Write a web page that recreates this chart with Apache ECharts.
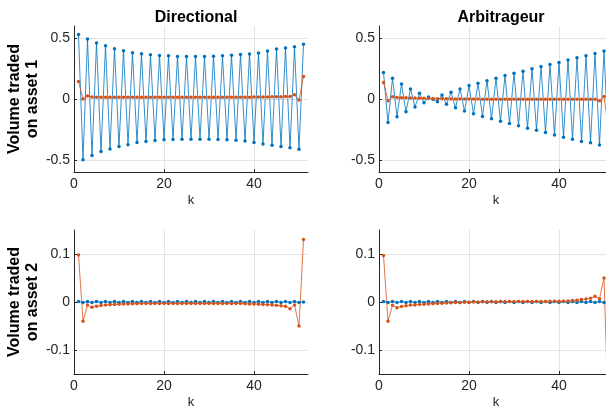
<!DOCTYPE html>
<html>
<head>
<meta charset="utf-8">
<script src="https://cdn.jsdelivr.net/npm/echarts@6/dist/echarts.min.js"></script>
<style>
html,body{margin:0;padding:0;background:#fff;overflow:hidden;}
#myChart{width:620px;height:412px;}
</style>
</head>
<body>
<div id="myChart"></div>
<script type="text/javascript">
// trading step k
var kValues = [1,2,3,4,5,6,7,8,9,10,11,12,13,14,15,16,17,18,19,20,21,22,23,24,25,26,27,28,29,30,31,32,33,34,35,36,37,38,39,40,41,42,43,44,45,46,47,48,49,50,51];

var titles = ['Directional', 'Arbitrageur'];
var rowNames = ['Volume traded\non asset 1', 'Volume traded\non asset 2'];
var xTicks = [0, 20, 40];
var yTicksAsset1 = [-0.5, 0, 0.5];
var yTicksAsset2 = [-0.1, 0, 0.1];

// Directional, asset 1
var dirAsset1Blue = [0.53,-0.50,0.493,-0.465,0.46,-0.432,0.438,-0.41,0.413,-0.39,0.397,-0.375,0.38,-0.358,0.372,-0.35,0.364,-0.342,0.358,-0.335,0.355,-0.333,0.35,-0.33,0.35,-0.33,0.35,-0.33,0.35,-0.33,0.352,-0.332,0.355,-0.335,0.36,-0.34,0.365,-0.345,0.37,-0.358,0.378,-0.37,0.395,-0.38,0.41,-0.39,0.42,-0.40,0.43,-0.413,0.45];
var dirAsset1Orange = [0.143,0.0,0.025,0.016,0.015,0.015,0.015,0.015,0.015,0.015,0.015,0.015,0.015,0.015,0.015,0.015,0.015,0.015,0.015,0.015,0.015,0.015,0.015,0.015,0.015,0.015,0.015,0.015,0.015,0.015,0.015,0.015,0.015,0.015,0.015,0.015,0.015,0.015,0.015,0.016,0.017,0.017,0.017,0.018,0.018,0.018,0.02,0.02,0.035,-0.008,0.185];

// Arbitrageur, asset 1
var arbAsset1Blue = [0.218,-0.193,0.171,-0.146,0.124,-0.105,0.083,-0.066,0.047,-0.03,0.016,-0.003,-0.022,0.033,-0.044,0.055,-0.072,0.083,-0.099,0.11,-0.121,0.13,-0.143,0.151,-0.163,0.171,-0.182,0.193,-0.201,0.212,-0.22,0.229,-0.24,0.248,-0.256,0.267,-0.275,0.284,-0.295,0.30,-0.314,0.32,-0.33,0.339,-0.35,0.355,-0.36,0.374,-0.378,0.394,-0.40];
var arbAsset1Orange = [0.135,-0.014,0.019,0.012,0.011,0.01,0.009,0.008,0.007,0.006,0.005,0.004,0.003,0.002,0.002,0.001,0.001,0.0,0.0,-0.001,-0.001,-0.001,-0.002,-0.002,-0.002,-0.002,-0.002,-0.002,-0.002,-0.002,-0.002,-0.002,-0.002,-0.002,-0.002,-0.002,-0.002,-0.002,-0.002,-0.002,-0.002,-0.002,-0.002,-0.002,-0.003,-0.003,-0.003,-0.003,-0.015,0.02,-0.25];

// Directional, asset 2
var dirAsset2Blue = [0.001,-0.001,0.001,-0.001,0.001,-0.001,0.001,-0.001,0.001,-0.001,0.001,-0.001,0.001,-0.001,0.001,-0.001,0.001,-0.001,0.001,-0.001,0.001,-0.001,0.001,-0.001,0.001,-0.001,0.001,-0.001,0.001,-0.001,0.001,-0.001,0.001,-0.001,0.001,-0.001,0.001,-0.001,0.001,-0.001,0.001,-0.001,0.001,-0.001,0.001,-0.001,0.001,-0.001,0.001,-0.001,0.0];
var dirAsset2Orange = [0.098,-0.04,-0.0065,-0.011,-0.0086,-0.0075,-0.006,-0.0055,-0.005,-0.0045,-0.004,-0.004,-0.0035,-0.0035,-0.003,-0.003,-0.003,-0.003,-0.003,-0.003,-0.003,-0.003,-0.003,-0.003,-0.003,-0.003,-0.003,-0.003,-0.003,-0.003,-0.003,-0.003,-0.003,-0.003,-0.003,-0.003,-0.003,-0.0035,-0.004,-0.004,-0.0045,-0.005,-0.0055,-0.006,-0.007,-0.008,-0.009,-0.014,-0.006,-0.05,0.13];

// Arbitrageur, asset 2
var arbAsset2Blue = [0.001,-0.001,0.001,-0.001,0.001,-0.001,0.001,-0.001,0.001,-0.001,0.001,-0.001,0.001,-0.001,0.001,-0.001,0.001,-0.001,0.001,-0.001,0.001,-0.001,0.001,-0.001,0.001,-0.001,0.001,-0.001,0.001,-0.001,0.001,-0.001,0.001,-0.001,0.001,-0.001,0.001,-0.001,0.001,-0.001,0.001,-0.001,0.001,-0.001,0.001,-0.001,0.001,-0.001,0.001,-0.001,0.0];
var arbAsset2Orange = [0.097,-0.04,-0.007,-0.012,-0.0095,-0.008,-0.0065,-0.006,-0.005,-0.0045,-0.004,-0.0035,-0.003,-0.0025,-0.002,-0.0015,-0.001,-0.0008,-0.0005,-0.0003,0.0,0.0002,0.0003,0.0004,0.0005,0.0006,0.0007,0.0008,0.0009,0.001,0.001,0.0011,0.0011,0.0012,0.0012,0.0013,0.0013,0.0014,0.0014,0.0015,0.0016,0.002,0.003,0.0035,0.005,0.006,0.008,0.012,0.007,0.05,-0.25];

var BLUE = '#0072BD', ORANGE = '#D95319', AXIS = '#262626', GRIDC = '#e3e3e3';
var FONT = 'Liberation Sans, Arial, Helvetica, sans-serif';

function pairs(vals)
{
	return kValues.map(function(k, i){ return [k, vals[i]]; });
}

function xAxisOf(idx)
{
	return {
		type:'value', gridIndex:idx, min:0, max:52,
		name:'k', nameLocation:'middle', nameGap:22,
		nameTextStyle:{fontFamily:FONT, fontSize:13, color:AXIS},
		axisLine:{show:true, onZero:false, lineStyle:{color:AXIS, width:1}},
		axisTick:{show:true, inside:true, length:3, customValues:xTicks, lineStyle:{color:AXIS}},
		axisLabel:{customValues:xTicks, fontFamily:FONT, fontSize:14, color:AXIS, margin:5},
		splitLine:{show:true, lineStyle:{color:GRIDC, width:1}}
	};
}

function yAxisOf(idx, lim, ticks, name)
{
	return {
		type:'value', gridIndex:idx, min:-lim, max:lim,
		name:name || '', nameLocation:'middle', nameGap:30,
		nameTextStyle:{fontFamily:FONT, fontSize:16, fontWeight:'bold', color:'#000', lineHeight:18},
		axisLine:{show:true, onZero:false, lineStyle:{color:AXIS, width:1}},
		axisTick:{show:true, inside:true, length:3, customValues:ticks, lineStyle:{color:AXIS}},
		axisLabel:{customValues:ticks, fontFamily:FONT, fontSize:14, color:AXIS, margin:4},
		splitLine:{show:true, lineStyle:{color:GRIDC, width:1}}
	};
}

function lineOf(idx, vals, color)
{
	return {
		type:'line', xAxisIndex:idx, yAxisIndex:idx, data:pairs(vals),
		symbol:'circle', symbolSize:3.5, showSymbol:true, clip:true, animation:false,
		lineStyle:{color:color, width:0.8}, itemStyle:{color:color}
	};
}

var option = {
	backgroundColor:'#fff',
	animation:false,
	title:[
		{text:titles[0], left:191, top:5, textAlign:'center', textStyle:{fontFamily:FONT, fontSize:16, fontWeight:'bold', color:'#000'}},
		{text:titles[1], left:496, top:5, textAlign:'center', textStyle:{fontFamily:FONT, fontSize:16, fontWeight:'bold', color:'#000'}}
	],
	grid:[
		{left:74, top:26, width:234, height:146},
		{left:379, top:26, width:234, height:146},
		{left:74, top:230, width:234, height:144},
		{left:379, top:230, width:234, height:144}
	],
	xAxis:[xAxisOf(0), xAxisOf(1), xAxisOf(2), xAxisOf(3)],
	yAxis:[
		yAxisOf(0, 0.6, yTicksAsset1, rowNames[0]),
		yAxisOf(1, 0.6, yTicksAsset1),
		yAxisOf(2, 0.15, yTicksAsset2, rowNames[1]),
		yAxisOf(3, 0.15, yTicksAsset2)
	],
	series:[
		lineOf(0, dirAsset1Blue, BLUE), lineOf(0, dirAsset1Orange, ORANGE),
		lineOf(1, arbAsset1Blue, BLUE), lineOf(1, arbAsset1Orange, ORANGE),
		lineOf(2, dirAsset2Blue, BLUE), lineOf(2, dirAsset2Orange, ORANGE),
		lineOf(3, arbAsset2Blue, BLUE), lineOf(3, arbAsset2Orange, ORANGE)
	]
};
echarts.init(document.getElementById('myChart')).setOption(option);
</script>
</body>
</html>
